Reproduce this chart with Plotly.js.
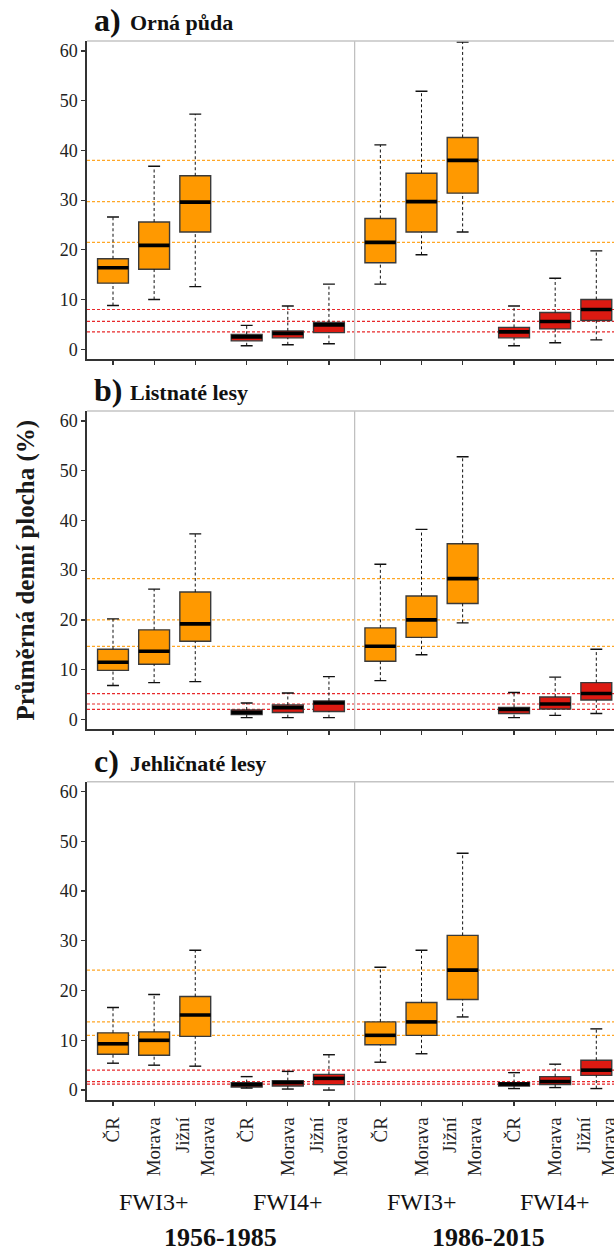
<!DOCTYPE html>
<html><head><meta charset="utf-8">
<script src="https://cdn.plot.ly/plotly-3.0.1.min.js"></script>
<style>html,body{margin:0;padding:0;background:#fff}</style>
</head><body><div id="chart" style="width:614px;height:1251px"></div>
<script>
// Category order inside each panel:
// 1956-1985 FWI3+ (ČR, Morava, Jižní Morava), 1956-1985 FWI4+ (...),
// 1986-2015 FWI3+ (...), 1986-2015 FWI4+ (...)
const regions = ["ČR", "Morava", "Jižní<br>Morava"];
const indices = ["FWI3+", "FWI4+"];
const periods = ["1956-1985", "1986-2015"];
const panelLetters = ["a)", "b)", "c)"];
const panelTitles = ["Orná půda", "Listnaté lesy", "Jehličnaté lesy"];
const yTicks = [0, 10, 20, 30, 40, 50, 60];
const yTitle = "Průměrná denní plocha (%)";

// a) Orná půda
const ornaUpper  = [26.6, 36.8, 47.3, 4.8, 8.7, 13.1, 41.1, 51.9, 61.8, 8.7, 14.3, 19.8];
const ornaQ3     = [18.2, 25.6, 34.9, 3.0, 3.7, 5.4, 26.3, 35.4, 42.6, 4.4, 7.4, 10.0];
const ornaMedian = [16.4, 20.9, 29.6, 2.5, 3.2, 4.9, 21.5, 29.7, 38.0, 3.5, 5.6, 8.0];
const ornaQ1     = [13.3, 16.1, 23.6, 1.7, 2.3, 3.35, 17.4, 23.6, 31.4, 2.3, 4.1, 5.8];
const ornaLower  = [8.8, 10.0, 12.6, 0.7, 0.9, 1.1, 13.1, 19.0, 23.6, 0.7, 1.3, 1.9];

// b) Listnaté lesy
const listUpper  = [20.2, 26.2, 37.3, 3.3, 5.3, 8.6, 31.2, 38.2, 52.8, 5.4, 8.5, 14.1];
const listQ3     = [14.1, 18.0, 25.6, 1.9, 2.9, 3.7, 18.4, 24.8, 35.3, 2.4, 4.5, 7.4];
const listMedian = [11.5, 13.7, 19.2, 1.4, 2.35, 3.3, 14.7, 20.0, 28.3, 2.0, 3.1, 5.2];
const listQ1     = [9.85, 11.1, 15.7, 0.95, 1.4, 1.6, 11.7, 16.5, 23.3, 1.2, 2.1, 3.9];
const listLower  = [6.8, 7.4, 7.6, 0.35, 0.35, 0.35, 7.8, 13.0, 19.4, 0.35, 0.8, 1.2];

// c) Jehličnaté lesy
const jehlUpper  = [16.6, 19.2, 28.1, 2.7, 3.75, 7.1, 24.7, 28.1, 47.6, 3.5, 5.2, 12.3];
const jehlQ3     = [11.5, 11.7, 18.8, 1.5, 1.9, 3.15, 13.7, 17.6, 31.1, 1.5, 2.7, 6.0];
const jehlMedian = [9.3, 10.0, 15.1, 1.1, 1.5, 2.35, 11.0, 13.7, 24.1, 1.2, 1.7, 4.0];
const jehlQ1     = [7.2, 7.0, 10.8, 0.6, 0.8, 1.1, 9.1, 11.0, 18.2, 0.8, 1.1, 2.95];
const jehlLower  = [5.4, 5.0, 4.8, 0.4, 0.2, 0.0, 5.6, 7.3, 14.7, 0.3, 0.5, 0.3];

const panels = [
  {upper: ornaUpper, q3: ornaQ3, med: ornaMedian, q1: ornaQ1, lower: ornaLower},
  {upper: listUpper, q3: listQ3, med: listMedian, q1: listQ1, lower: listLower},
  {upper: jehlUpper, q3: jehlQ3, med: jehlMedian, q1: jehlQ1, lower: jehlLower}
];

const ORANGE = "#FF9900", RED = "#DC1A12";
const LINE_OR = "#FFA726", LINE_RED = "#E8282B";
const SERIF = "Liberation Serif, DejaVu Serif, serif";
const GROUP_GAP = 0.25, BOX_W = 0.75, CAP_W = 0.29;

// x positions from group / region structure
const xPos = [], tickText = [], groupIdx = [];
for (let p = 0; p < periods.length; p++) {
  for (let f = 0; f < indices.length; f++) {
    const g = p * indices.length + f;
    for (let r = 0; r < regions.length; r++) {
      xPos.push(g * (regions.length + GROUP_GAP) + r);
      tickText.push(regions[r]);
      groupIdx.push(g);
    }
  }
}
const isOrange = groupIdx.map(g => g % 2 === 0);

const domains = [[0.6995, 1.0], [0.3500, 0.6506], [0.0, 0.3006]];
const traces = [];
const shapes = [];
const annotations = [];
const layout = {
  width: 614, height: 1251,
  margin: {l: 87, r: 0, t: 41, b: 151},
  paper_bgcolor: "#fff", plot_bgcolor: "#fff",
  showlegend: false,
  font: {family: SERIF, color: "#222"}
};

function pick(arr, mask) { return arr.filter((_, i) => mask[i]); }

panels.forEach((pd, k) => {
  const ax = k === 0 ? "" : String(k + 1);
  const xa = "x" + ax, ya = "y" + ax;
  // Boxes (no whiskers: fences at the quartiles)
  [[true, ORANGE], [false, RED]].forEach(([orange, col]) => {
    const m = isOrange.map(v => v === orange);
    traces.push({
      type: "box", xaxis: xa, yaxis: ya,
      x: pick(xPos, m), q1: pick(pd.q1, m), median: pick(pd.med, m), q3: pick(pd.q3, m),
      lowerfence: pick(pd.q1, m), upperfence: pick(pd.q3, m),
      width: BOX_W, whiskerwidth: 0, fillcolor: col,
      line: {color: "#3a3a3a", width: 1.4},
      boxpoints: false, hoverinfo: "skip"
    });
  });
  // Whiskers (dashed), caps, medians
  const wx = [], wy = [], cx = [], cy = [], mx = [], my = [];
  xPos.forEach((x, i) => {
    wx.push(x, x, null, x, x, null);
    wy.push(pd.q3[i], pd.upper[i], null, pd.lower[i], pd.q1[i], null);
    cx.push(x - CAP_W / 2, x + CAP_W / 2, null, x - CAP_W / 2, x + CAP_W / 2, null);
    cy.push(pd.upper[i], pd.upper[i], null, pd.lower[i], pd.lower[i], null);
    mx.push(x - BOX_W / 2, x + BOX_W / 2, null);
    my.push(pd.med[i], pd.med[i], null);
  });
  traces.push({type: "scatter", mode: "lines", xaxis: xa, yaxis: ya, x: wx, y: wy,
    line: {color: "#111", width: 1, dash: "3px,2.5px"}, hoverinfo: "skip"});
  traces.push({type: "scatter", mode: "lines", xaxis: xa, yaxis: ya, x: cx, y: cy,
    line: {color: "#111", width: 1.4}, hoverinfo: "skip"});
  traces.push({type: "scatter", mode: "lines", xaxis: xa, yaxis: ya, x: mx, y: my,
    line: {color: "#000", width: 3.6}, hoverinfo: "skip"});

  // Reference lines at medians of the second period
  xPos.forEach((x, i) => {
    if (groupIdx[i] >= 2) {
      shapes.push({type: "line", layer: "below", xref: xa + " domain", yref: ya,
        x0: 0, x1: 1, y0: pd.med[i], y1: pd.med[i],
        line: {color: isOrange[i] ? LINE_OR : LINE_RED, width: 1.2, dash: "3px,2px"}});
    }
  });
  // separator between periods
  const sep = (xPos[5] + xPos[6]) / 2;
  shapes.push({type: "line", layer: "below", xref: xa, yref: ya + " domain",
    x0: sep, x1: sep, y0: 0, y1: 1, line: {color: "#bdbdbd", width: 1.2}});
  // top frame
  shapes.push({type: "line", layer: "above", xref: xa + " domain", yref: ya + " domain",
    x0: 0, x1: 1, y0: 1, y1: 1, line: {color: "#c4c4c4", width: 1.5}});

  const range = [xPos[0] - 0.632, xPos[0] + 12.18];
  layout["xaxis" + ax] = {
    domain: [0, 1], anchor: ya, range: range, fixedrange: true,
    tickmode: "array", tickvals: xPos, ticktext: tickText,
    showticklabels: k === 2, tickangle: -90, ticklabelstandoff: 4,
    ticklabeloverflow: "allow",
    tickfont: {family: SERIF, size: 19, color: "#222"},
    ticks: "outside", ticklen: 4, tickwidth: 1.2, tickcolor: "#333",
    showline: true, linecolor: "#333", linewidth: 1.6,
    showgrid: false, zeroline: false
  };
  layout["yaxis" + ax] = {
    domain: domains[k], anchor: xa, range: [-2, 62], fixedrange: true,
    tickmode: "array", tickvals: yTicks, ticktext: yTicks.map(String),
    tickfont: {family: SERIF, size: 18, color: "#222"},
    ticks: "outside", ticklen: 4, tickwidth: 1.2, tickcolor: "#333",
    showline: true, linecolor: "#333", linewidth: 1.6,
    showgrid: false, zeroline: false
  };

  annotations.push({xref: "paper", yref: "paper", x: 0.0095, y: domains[k][1], yshift: 1,
    xanchor: "left", yanchor: "bottom", showarrow: false, text: panelLetters[k],
    font: {family: SERIF, size: 32, color: "#111", weight: "bold"}});
  annotations.push({xref: "paper", yref: "paper", x: 0.0778, y: domains[k][1], yshift: 4,
    xanchor: "left", yanchor: "bottom", showarrow: false, text: panelTitles[k],
    font: {family: SERIF, size: 22, color: "#111", weight: "bold"}});
});

// Group labels under the bottom panel
for (let g = 0; g < periods.length * indices.length; g++) {
  const c = g * (regions.length + GROUP_GAP) + (regions.length - 1) / 2;
  annotations.push({xref: "x3", yref: "paper", x: c, y: -0.0963, xanchor: "center", yanchor: "middle",
    showarrow: false, text: indices[g % 2], font: {family: SERIF, size: 24, color: "#111"}});
}
for (let p = 0; p < periods.length; p++) {
  const g0 = p * 2, g1 = p * 2 + 1;
  const c = ((g0 + g1) / 2) * (regions.length + GROUP_GAP) + (regions.length - 1) / 2;
  annotations.push({xref: "x3", yref: "paper", x: c, y: -0.1303, xanchor: "center", yanchor: "middle",
    showarrow: false, text: periods[p], font: {family: SERIF, size: 26, color: "#111", weight: "bold"}});
}
annotations.push({xref: "paper", yref: "paper", x: -0.1176, y: 0.5, xanchor: "center", yanchor: "middle",
  textangle: -90, showarrow: false, text: yTitle,
  font: {family: SERIF, size: 25, color: "#1a1a1a", weight: "bold"}});

layout.shapes = shapes;
layout.annotations = annotations;

Plotly.newPlot("chart", traces, layout, {staticPlot: true, displayModeBar: false});
</script></body></html>
